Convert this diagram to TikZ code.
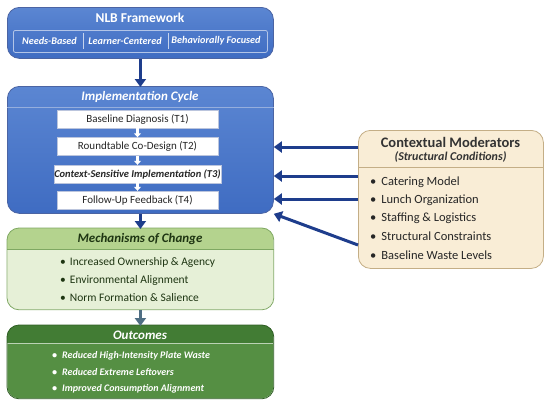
\documentclass[tikz,border=0pt]{standalone}
\usepackage{fontspec}
\setmainfont{Carlito}
\usetikzlibrary{arrows.meta, positioning, calc}

\definecolor{nlbtop}{HTML}{5B86D2}
\definecolor{nlbblue}{HTML}{3F6CC2}
\definecolor{navy}{HTML}{1E3D8C}
\definecolor{mechfill}{HTML}{E6F0D7}
\definecolor{mechhead}{HTML}{B4D38E}
\definecolor{mechline}{HTML}{7FA862}
\definecolor{outfill}{HTML}{558F43}
\definecolor{outhead}{HTML}{427C34}
\definecolor{outline}{HTML}{2F5E24}
\definecolor{modfill}{HTML}{F9EDD6}
\definecolor{modline}{HTML}{C4AE86}
\definecolor{slate}{HTML}{4F6E83}
\definecolor{inkgreen}{HTML}{1E3512}

\begin{document}
\begin{tikzpicture}[x=1pt,y=-1pt,
  panel/.style={rectangle, rounded corners=12pt, anchor=north west, line width=0.8pt, inner sep=0pt},
  bluepanel/.style={panel, draw=navy!80, top color=nlbtop, bottom color=nlbblue},
  stage/.style={rectangle, fill=white, draw=navy!30, minimum width=161pt, minimum height=18pt, inner sep=0pt, text=black!85, font=\fontsize{11}{12}\selectfont},
  head/.style={inner sep=0pt, font=\bfseries\itshape\fontsize{13}{15}\selectfont},
  bul/.style={anchor=west, inner sep=0pt},
  arr/.style={-{Triangle[length=8pt,width=11pt]}, line width=3pt, navy},
  minor/.style={-{Triangle[length=4pt,width=7pt]}, line width=2.5pt, white}
]
  \useasboundingbox (0,0) rectangle (550,405);

  % framework
  \node[bluepanel, minimum width=266pt, minimum height=51pt] (nlb) at (7,7) {};
  \node[inner sep=0pt, text=white, font=\bfseries\fontsize{13.5}{15}\selectfont] (nlbtitle) at (140,18) {NLB Framework};
  \node[panel, rounded corners=2pt, draw=white!60!nlbblue, minimum width=254pt, minimum height=22pt] (pillars) at (13,30) {};
  \foreach \x/\t in {49.5/Needs-Based, 125/Learner-Centered, 216/Behaviorally Focused}{\node[inner sep=0pt, text=white, font=\bfseries\itshape\fontsize{10.2}{12}\selectfont] at (\x,41) {\t};}
  \foreach \x in {83,168}{\draw[white!70!nlbblue, line width=0.6pt] (\x,33) -- (\x,49);}

  % implementation cycle
  \node[bluepanel, minimum width=266pt, minimum height=127pt] (impl) at (7,86) {};
  \node[head, text=white] (impltitle) at (140,97) {Implementation Cycle};
  \draw[white!45!nlbblue, line width=0.8pt] (impl.west |- 0,107.5) -- (impl.east |- 0,107.5);
  \node[stage] (t1) at (137.5,119)   {Baseline Diagnosis (T1)};
  \node[stage] (t2) at (137.5,146.5) {Roundtable Co-Design (T2)};
  \node[stage, font=\bfseries\itshape\fontsize{10.5}{12}\selectfont] (t3) at (137.5,174) {Context-Sensitive Implementation (T3)};
  \node[stage] (t4) at (137.5,200)   {Follow-Up Feedback (T4)};
  \foreach \a/\b in {t1/t2, t2/t3, t3/t4}{\draw[minor] (\a.south) -- (\b.north);}

  % mechanisms
  \node[panel, fill=mechfill, minimum width=266pt, minimum height=81pt] (mech) at (7,228) {};
  \begin{scope}
    \clip[rounded corners=12pt] (mech.north west) rectangle (mech.south east);
    \fill[mechhead] (mech.north west) rectangle (273,249);
  \end{scope}
  \draw[mechline, line width=0.8pt] (mech.west |- 0,249) -- (mech.east |- 0,249);
  \draw[mechline, line width=0.8pt, rounded corners=12pt] (mech.north west) rectangle (mech.south east);
  \node[head, text=inkgreen] (mechtitle) at (140,239) {Mechanisms of Change};
  \foreach \y/\t in {262/Increased Ownership \& Agency, 280/Environmental Alignment, 298/Norm Formation \& Salience}{\node[bul, text=inkgreen, font=\fontsize{11.5}{13}\selectfont] at (60,\y) {\textbullet\hspace{4pt}\t};}

  % outcomes
  \node[panel, fill=outfill, minimum width=266pt, minimum height=73pt] (out) at (7,325) {};
  \begin{scope}
    \clip[rounded corners=12pt] (out.north west) rectangle (out.south east);
    \fill[outhead] (out.north west) rectangle (273,343);
  \end{scope}
  \draw[white!60!outfill, line width=0.8pt] (out.west |- 0,343) -- (out.east |- 0,343);
  \draw[outline, line width=0.8pt, rounded corners=12pt] (out.north west) rectangle (out.south east);
  \node[head, text=white] (outtitle) at (140,335) {Outcomes};
  \foreach \y/\t in {356/Reduced High-Intensity Plate Waste, 372/Reduced Extreme Leftovers, 389/Improved Consumption Alignment}{\node[bul, text=white, font=\bfseries\itshape\fontsize{10}{12}\selectfont] at (52,\y) {\textbullet\hspace{5pt}\t};}

  % moderators
  \node[panel, draw=modline, fill=modfill, minimum width=185pt, minimum height=138pt] (mod) at (358,130) {};
  \node[inner sep=0pt, text=black!80, font=\bfseries\fontsize{14.5}{16}\selectfont] (modtitle) at (450.5,142) {Contextual Moderators};
  \node[inner sep=0pt, text=black!80, font=\bfseries\itshape\fontsize{12}{14}\selectfont] (modsub) at (450.5,157) {(Structural Conditions)};
  \draw[modline, line width=0.8pt] (mod.west |- 0,167) -- (mod.east |- 0,167);
  \foreach \y/\t in {182/Catering Model, 200/Lunch Organization, 218/Staffing \& Logistics, 236/Structural Constraints, 255/Baseline Waste Levels}{\node[bul, text=black!85, font=\fontsize{12.5}{15}\selectfont] at (370,\y) {\textbullet\hspace{5pt}\t};}

  % connectors
  \draw[arr] (nlb.south) -- ([yshift=-1pt]impl.north);
  \draw[arr] (impl.south) -- ([yshift=-1pt]mech.north);
  \draw[arr, slate] (mech.south) -- ([yshift=-1pt]out.north);
  \foreach \y in {147,176,199}{\draw[arr] (mod.west |- 0,\y) -- (impl.east |- 0,\y);}
  \draw[arr] (mod.west |- 0,245) -- (impl.south east);
\end{tikzpicture}
\end{document}
